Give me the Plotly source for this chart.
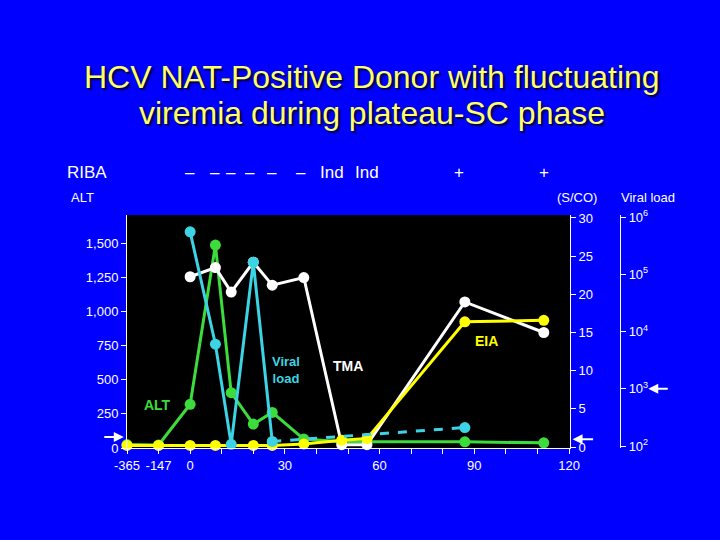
import plotly.graph_objects as go

# ---------------- data ----------------
alt_days = [-365, -147, 0, 8, 13, 20, 26, 36, 48, 56, 87, 112]
alt_vals = [25, 22, 320, 1485, 405, 175, 260, 65, 45, 45, 45, 38]

tma_days = [0, 8, 13, 20, 26, 36, 48, 56, 87, 112]
tma_vals = [22.3, 23.5, 20.3, 24.2, 21.2, 22.2, 0.3, 0.3, 19.0, 15.0]

eia_days = [-365, -147, 0, 8, 20, 26, 36, 48, 56, 87, 112]
eia_vals = [0.2, 0.2, 0.2, 0.2, 0.2, 0.2, 0.4, 0.9, 1.1, 16.4, 16.6]

viral_days = [0, 8, 13, 20, 26]
viral_vals = [550000, 6000, 107, 162000, 120]
viral_tail_days = [26, 87]
viral_tail_vals = [120, 210]

riba_days = [0, 8, 13, 19, 26, 35, 45, 56, 85, 112]
riba_text = ["–", "–", "–", "–", "–", "–", "Ind", "Ind", "+", "+"]

x_tick_days = [-365, -147, 0, 30, 60, 90, 120]
x_tick_text = ["-365", "-147", "0", "30", "60", "90", "120"]
alt_ticks = [0, 250, 500, 750, 1000, 1250, 1500]
alt_tick_text = ["0", "250", "500", "750", "1,000", "1,250", "1,500"]
sco_ticks = [0, 5, 10, 15, 20, 25, 30]
vl_ticks = [100, 1000, 10000, 100000, 1000000]
vl_tick_text = ["10<sup>2</sup>", "10<sup>3</sup>", "10<sup>4</sup>", "10<sup>5</sup>", "10<sup>6</sup>"]

# broken time axis: pre-index samples are squeezed to the left
BREAK = {-365: -20, -147: -10}
def xpos(days):
    return [BREAK.get(d, d) for d in days]

FONT = "Liberation Sans, Arial, sans-serif"
GREEN = "#3cdc3c"
CYAN = "#3cd4e4"
YELLOW = "#ffff00"
WHITE = "#ffffff"

VL_RANGE = [1.965, 6.035]

fig = go.Figure()

fig.add_trace(go.Scatter(x=xpos(alt_days), y=alt_vals, yaxis="y", mode="lines+markers",
                         line=dict(color=GREEN, width=3), marker=dict(color=GREEN, size=11),
                         cliponaxis=False, showlegend=False))
fig.add_trace(go.Scatter(x=xpos(tma_days), y=tma_vals, yaxis="y2", mode="lines+markers",
                         line=dict(color=WHITE, width=3), marker=dict(color=WHITE, size=11),
                         cliponaxis=False, showlegend=False))
fig.add_trace(go.Scatter(x=xpos(eia_days), y=eia_vals, yaxis="y2", mode="lines+markers",
                         line=dict(color=YELLOW, width=3), marker=dict(color=YELLOW, size=11),
                         cliponaxis=False, showlegend=False))
fig.add_trace(go.Scatter(x=xpos(viral_days), y=viral_vals, yaxis="y3", mode="lines+markers",
                         line=dict(color=CYAN, width=3), marker=dict(color=CYAN, size=11),
                         cliponaxis=False, showlegend=False))
fig.add_trace(go.Scatter(x=xpos(viral_tail_days), y=viral_tail_vals, yaxis="y3", mode="lines",
                         line=dict(color=CYAN, width=3, dash="dash"),
                         cliponaxis=False, showlegend=False))
fig.add_trace(go.Scatter(x=xpos(viral_tail_days[-1:]), y=viral_tail_vals[-1:], yaxis="y3",
                         mode="markers", marker=dict(color=CYAN, size=11),
                         cliponaxis=False, showlegend=False))


def label(text, x, y, size, color, xref="paper", yref="paper"):
    return dict(text=text, xref=xref, yref=yref, x=x, y=y, xanchor="center", yanchor="middle",
                showarrow=False, font=dict(size=size, color=color, family=FONT))


annotations = []
# title (two centred lines)
for line_text, ypix in [("HCV NAT-Positive Donor with fluctuating", 77),
                        ("viremia during plateau-SC phase", 113)]:
    annotations.append(dict(text=line_text, xref="paper", yref="paper",
                            x=(372 - 127) / 533, y=1 + (215 - ypix) / 233,
                            xanchor="center", yanchor="middle", showarrow=False,
                            font=dict(size=32, color="#ffff66", family=FONT,
                                      shadow="2px 2px 2px #000033")))
# RIBA row
annotations.append(label("RIBA", -0.075, 1.1845, 17, WHITE))
for d, t in zip(riba_days, riba_text):
    annotations.append(label(t, d, 1.1845, 17, WHITE, xref="x"))
# axis titles
annotations += [
    label("ALT", -0.084, 1.077, 13, WHITE),
    label("(S/CO)", 0.844, 1.077, 13, WHITE),
    label("Viral load", 0.9775, 1.077, 13, WHITE),
]
# series labels
annotations += [
    label("<b>ALT</b>", -10.4, 315, 14, GREEN, xref="x", yref="y"),
    label("<b>Viral<br>load</b>", 30.5, 571, 13, CYAN, xref="x", yref="y"),
    label("<b>TMA</b>", 50, 600, 14, WHITE, xref="x", yref="y"),
    label("<b>EIA</b>", 94, 783, 14, YELLOW, xref="x", yref="y"),
]
# cut-off arrows
vl_cut_paper = (3 - VL_RANGE[0]) / (VL_RANGE[1] - VL_RANGE[0])
annotations += [
    dict(text="", xref="paper", yref="y", x=-0.006, y=80, ax=-21, ay=0, showarrow=True,
         arrowhead=2, arrowsize=1, arrowwidth=2, arrowcolor=WHITE),
    dict(text="", xref="paper", yref="y2", x=0.836, y=1.0, ax=22, ay=0, showarrow=True,
         arrowhead=2, arrowsize=1, arrowwidth=2, arrowcolor=WHITE),
    dict(text="", xref="paper", yref="paper", x=0.978, y=vl_cut_paper, ax=21, ay=0, showarrow=True,
         arrowhead=2, arrowsize=1, arrowwidth=2, arrowcolor=WHITE),
]

fig.update_layout(
    width=720, height=540,
    paper_bgcolor="#0000ff", plot_bgcolor="#000000",
    margin=dict(l=127, r=60, t=215, b=92, autoexpand=False),
    font=dict(family=FONT, color=WHITE, size=13),
    hovermode=False,
    xaxis=dict(domain=[0, 0.8311], range=[-20, 120.3], showgrid=False, zeroline=False,
               showline=True, linecolor=WHITE, linewidth=1,
               tickvals=xpos(x_tick_days), ticktext=x_tick_text, ticks="outside", ticklen=5,
               tickcolor=WHITE, tickfont=dict(size=13, color=WHITE),
               minor=dict(tickvals=[10, 20, 40, 50, 70, 80, 100, 110], ticks="outside",
                          ticklen=5, tickcolor=WHITE)),
    yaxis=dict(range=[0, 1705], showgrid=False, zeroline=False, showline=True, linecolor=WHITE,
               linewidth=1, tickvals=alt_ticks, ticktext=alt_tick_text, ticks="outside", ticklen=5,
               tickcolor=WHITE, tickfont=dict(size=13, color=WHITE)),
    yaxis2=dict(range=[-0.13, 30.39], overlaying="y", side="right", anchor="x", showgrid=False,
                zeroline=False, showline=True, linecolor=WHITE, linewidth=1, tickvals=sco_ticks,
                ticks="outside", ticklen=5, tickcolor=WHITE, tickfont=dict(size=13, color=WHITE)),
    yaxis3=dict(type="log", range=VL_RANGE, overlaying="y", side="right", anchor="free",
                position=0.925, showgrid=False, zeroline=False, showline=True, linecolor=WHITE,
                linewidth=1, tickvals=vl_ticks, ticktext=vl_tick_text, ticks="outside", ticklen=5,
                tickcolor=WHITE, tickfont=dict(size=13, color=WHITE)),
    annotations=annotations,
)

fig.write_html("out.html", config={"displayModeBar": False},
               post_script="document.body.style.margin='0';document.body.style.padding='0';"
                           "document.body.style.background='#0000ff';")
